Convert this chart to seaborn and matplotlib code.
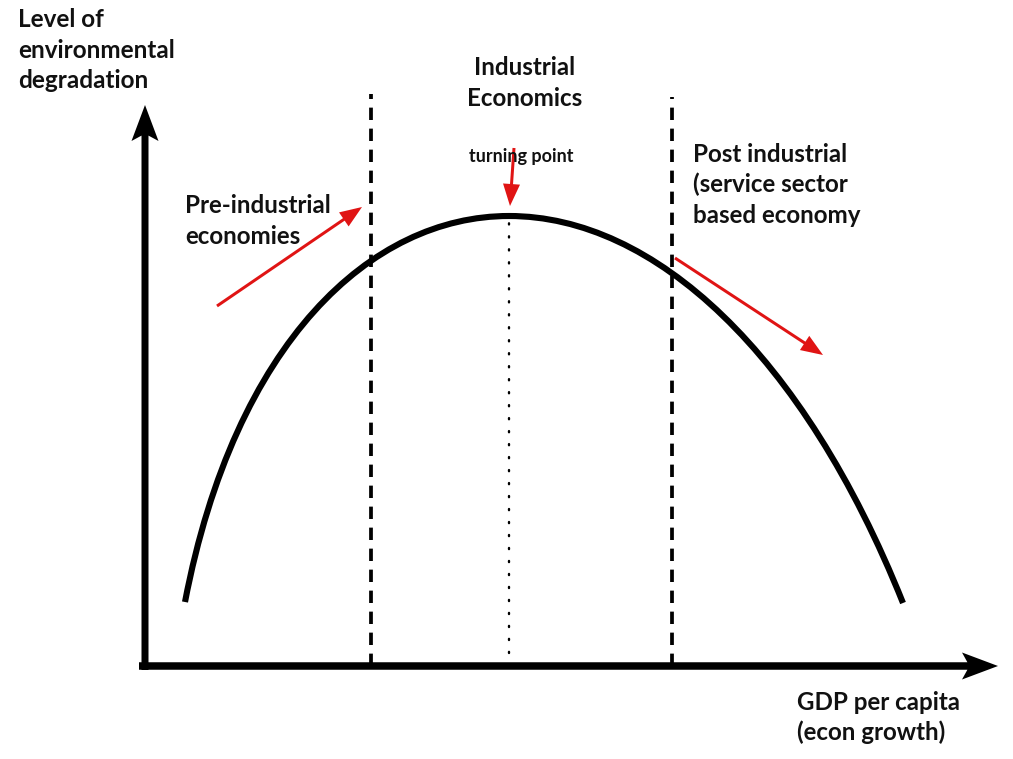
import matplotlib
matplotlib.use("Agg")
import matplotlib.pyplot as plt
from matplotlib.path import Path
from matplotlib.patches import PathPatch
import seaborn as sns

# ---- data (diagram units: GDP per capita -> x, degradation -> y) ----
# Kuznets curve as two cubic Bezier pieces:
# left end, handle, handle, turning point, handle, handle, right end
curve_gdp = [185, 235, 371, 509, 654, 803, 903]
curve_degradation = [157, 417, 543, 543, 543, 406, 156]
stage_bounds = [371, 672]
stage_tops = [665, 662]
turning_gdp = 509
turning_level = 541

red = "#e01414"

sns.set_theme(style="white")
plt.rcParams["font.family"] = ["Lato", "DejaVu Sans"]

fig = plt.figure(figsize=(10.13, 7.59), dpi=100)
ax = fig.add_axes([0, 0, 1, 1])
ax.set_xlim(0, 1013)
ax.set_ylim(0, 759)
ax.axis("off")

origin_x, origin_y = 145, 93

# curve
codes = [Path.MOVETO] + [Path.CURVE4] * 6
path = Path(list(zip(curve_gdp, curve_degradation)), codes)
ax.add_patch(PathPatch(path, fill=False, edgecolor="black", lw=4.4,
                       capstyle="butt"))

# axes arrows
ax.arrow(139, origin_y, 998 - 139, 0, width=7.5, head_width=27, head_length=36,
         length_includes_head=True, overhang=0.15, color="black", lw=0)
ax.arrow(origin_x, 89, 0, 654 - 89, width=7, head_width=27, head_length=36,
         length_includes_head=True, overhang=0.15, color="black", lw=0)

# stage boundaries
for xb, top in zip(stage_bounds, stage_tops):
    ax.plot([xb, xb], [origin_y, top], color="black", lw=2.7,
            dashes=(3.3, 2.3))
# turning point dotted line
ax.plot([turning_gdp, turning_gdp], [origin_y, turning_level], color="black",
        lw=1.7, dashes=(0.5, 5.0), dash_capstyle="round")

# red arrows
arrow_kw = dict(width=3, head_width=17, head_length=22,
                length_includes_head=True, color=red, lw=0)
ax.arrow(217, 453, 362 - 217, 552 - 453, **arrow_kw)
ax.arrow(675, 501, 823 - 675, 404 - 501, **arrow_kw)
ax.arrow(514, 611, 510 - 514, 553 - 611, **arrow_kw)

# labels
def label(lines, x, first_baseline_px, size, ha="left", step=30.5,
          weight="bold"):
    for i, t in enumerate(lines):
        ax.text(x, 759 - (first_baseline_px + i * step), t, ha=ha,
                va="baseline", fontsize=size, fontweight=weight,
                color="#111111")

label(["Level of", "environmental", "degradation"], 18, 27, 17.5)
label(["Industrial", "Economics"], 525, 75, 17.4, ha="center")
label(["turning point"], 521, 162, 13, ha="center")
label(["Pre-industrial", "economies"], 185, 213, 17.4)
label(["Post industrial", "(service sector", "based economy"], 693, 162, 17.4)
label(["GDP per capita", "(econ growth)"], 797, 710, 17.4)

fig.savefig("out.png", dpi=100, facecolor="white")
